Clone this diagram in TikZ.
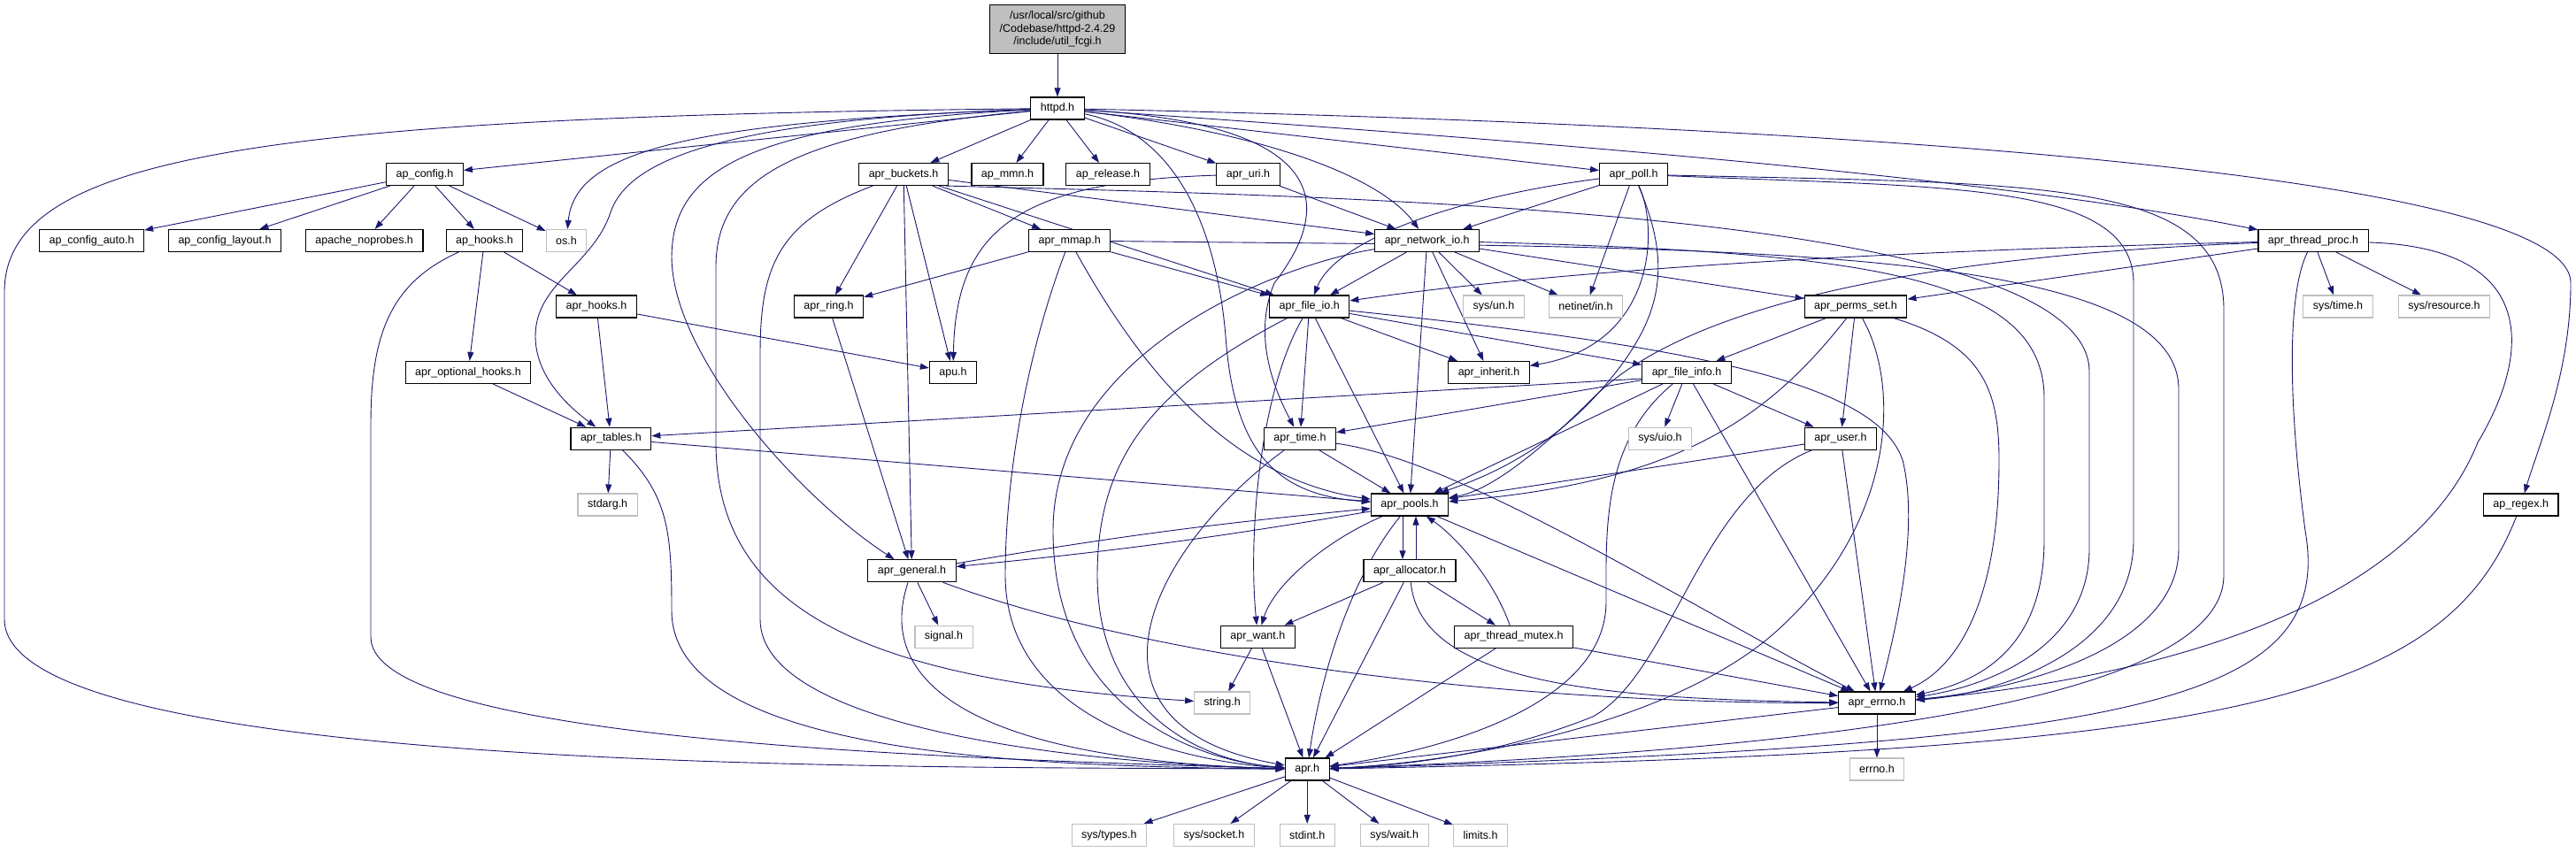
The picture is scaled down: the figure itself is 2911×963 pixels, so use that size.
\documentclass[tikz,border=0pt]{standalone}
\usepackage{fontspec}
\setmainfont{Liberation Sans}
\usepackage{tikz}
\usetikzlibrary{arrows.meta}

\definecolor{edgeblue}{RGB}{25,25,112}
\definecolor{sysgray}{RGB}{191,191,191}
\pgfdeclarelayer{edges}
\pgfsetlayers{edges,main}

\begin{document}
\begin{tikzpicture}[x=1pt, y=-1pt, >={Triangle[length=10pt,width=7pt]},
    hdr/.style={draw=black, line width=1.1pt, fill=white, inner xsep=11pt, inner ysep=0pt, minimum height=25pt, font=\fontsize{12.5}{14.5}\selectfont},
    sys/.style={hdr, draw=sysgray},
    root/.style={hdr, fill=sysgray, align=center, minimum height=55pt},
    dep/.style={->, draw=edgeblue, line width=0.9pt}]
      \useasboundingbox (0,0) rectangle (2911,963);

      % files
      \node[root] (top) at (1195,33) {/usr/local/src/github\\/Codebase/httpd-2.4.29\\/include/util\_fcgi.h};
      \node[hdr] (httpd) at (1195,122.5) {httpd.h};

      \node[hdr] (apconfig) at (480,197) {ap\_config.h};
      \node[hdr] (buckets) at (1021,197) {apr\_buckets.h};
      \node[hdr] (apmmn) at (1138.5,197) {ap\_mmn.h};
      \node[hdr] (aprelease) at (1252,197) {ap\_release.h};
      \node[hdr] (uri) at (1410.5,197) {apr\_uri.h};
      \node[hdr] (poll) at (1846,197) {apr\_poll.h};

      \node[hdr] (configauto) at (103.6,272) {ap\_config\_auto.h};
      \node[hdr] (configlayout) at (254,272) {ap\_config\_layout.h};
      \node[hdr] (noprobes) at (411.7,272) {apache\_noprobes.h};
      \node[hdr] (aphooks) at (547.5,272) {ap\_hooks.h};
      \node[sys] (os) at (640,272) {os.h};
      \node[hdr] (mmap) at (1208.7,272) {apr\_mmap.h};
      \node[hdr] (netio) at (1612.7,272) {apr\_network\_io.h};
      \node[hdr] (threadproc) at (2614,272) {apr\_thread\_proc.h};

      \node[hdr] (aprhooks) at (674,346.5) {apr\_hooks.h};
      \node[hdr] (ring) at (936.5,346.5) {apr\_ring.h};
      \node[hdr] (fileio) at (1479.7,346.5) {apr\_file\_io.h};
      \node[sys] (sysun) at (1688,346.5) {sys/un.h};
      \node[sys] (netinet) at (1792,346.5) {netinet/in.h};
      \node[hdr] (permsset) at (2097,346.5) {apr\_perms\_set.h};
      \node[sys] (systime) at (2642,346.5) {sys/time.h};
      \node[sys] (sysresource) at (2762,346.5) {sys/resource.h};

      \node[hdr] (opthooks) at (529,421) {apr\_optional\_hooks.h};
      \node[hdr] (apu) at (1077,421) {apu.h};
      \node[hdr] (inherit) at (1682.5,421) {apr\_inherit.h};
      \node[hdr] (fileinfo) at (1906,421) {apr\_file\_info.h};

      \node[hdr] (tables) at (690.4,495.7) {apr\_tables.h};
      \node[hdr] (time) at (1469,495.7) {apr\_time.h};
      \node[sys] (sysuio) at (1876,495.7) {sys/uio.h};
      \node[hdr] (user) at (2080,495.7) {apr\_user.h};

      \node[sys] (stdarg) at (686.6,570.5) {stdarg.h};
      \node[hdr] (pools) at (1593,570.5) {apr\_pools.h};
      \node[hdr] (regex) at (2848.7,570.5) {ap\_regex.h};

      \node[hdr] (general) at (1030.5,645.3) {apr\_general.h};
      \node[hdr] (allocator) at (1593,645.3) {apr\_allocator.h};

      \node[sys] (signal) at (1066.5,719.7) {signal.h};
      \node[hdr] (want) at (1421.4,719.7) {apr\_want.h};
      \node[hdr] (mutex) at (1710.6,719.7) {apr\_thread\_mutex.h};

      \node[sys] (string) at (1381.2,794.5) {string.h};
      \node[hdr] (errno) at (2121,794.5) {apr\_errno.h};

      \node[hdr] (apr) at (1477.2,869.5) {apr.h};
      \node[sys] (errnoh) at (2121,869.5) {errno.h};

      \node[sys] (systypes) at (1253.3,944) {sys/types.h};
      \node[sys] (syssocket) at (1372,944) {sys/socket.h};
      \node[sys] (stdint) at (1477.2,944) {stdint.h};
      \node[sys] (syswait) at (1575.7,944) {sys/wait.h};
      \node[sys] (limits) at (1673,944) {limits.h};

      % includes, under the boxes
      \begin{pgfonlayer}{edges}
      \draw[dep] (top) -- (httpd);

      \draw[dep] (httpd) -- (apconfig);
      \draw[dep] (httpd) .. controls (780,138) and (650,170) .. (os);
      \draw[dep] (httpd) .. controls (300,132) and (5,175) .. (5,330) -- (5,700) .. controls (5,880) and (1100,866) .. (apr);
      \draw[dep] (httpd) .. controls (820,135) and (710,180) .. (690,240) .. controls (670,300) and (605,320) .. (605,380) .. controls (605,430) and (650,465) .. (tables);
      \draw[dep] (httpd) .. controls (850,140) and (760,190) .. (759,290) .. controls (759,400) and (900,560) .. (general);
      \draw[dep] (httpd) .. controls (900,150) and (810,200) .. (809,300) -- (809,500) .. controls (809,700) and (1000,770) .. (string);
      \draw[dep] (httpd) .. controls (1330,150) and (1375,260) .. (1385,380) .. controls (1395,520) and (1450,560) .. (pools);
      \draw[dep] (httpd) .. controls (1500,140) and (1510,230) .. (1440,320) .. controls (1415,380) and (1440,440) .. (time);
      \draw[dep] (httpd) .. controls (1430,150) and (1560,200) .. (netio);
      \draw[dep] (httpd) -- (buckets);
      \draw[dep] (httpd) -- (apmmn);
      \draw[dep] (httpd) -- (aprelease);
      \draw[dep] (httpd) -- (uri);
      \draw[dep] (httpd) -- (poll);
      \draw[dep] (httpd) .. controls (1900,170) and (2300,210) .. (threadproc);
      \draw[dep] (httpd) .. controls (2000,140) and (2905,190) .. (2905,320) .. controls (2905,420) and (2870,500) .. (regex);

      \draw[dep] (apconfig) -- (configauto);
      \draw[dep] (apconfig) -- (configlayout);
      \draw[dep] (apconfig) -- (noprobes);
      \draw[dep] (apconfig) -- (aphooks);
      \draw[dep] (apconfig) -- (os);

      \draw[dep] (aphooks) -- (aprhooks);
      \draw[dep] (aphooks) -- (opthooks);
      \draw[dep] (aphooks) .. controls (440,320) and (419,380) .. (419,480) -- (419,720) .. controls (419,840) and (1100,858) .. (apr);

      \draw[dep] (aprhooks) -- (tables);
      \draw[dep] (aprhooks) -- (apu);
      \draw[dep] (opthooks) -- (tables);

      \draw[dep] (tables) -- (stdarg);
      \draw[dep] (tables) -- (pools);
      \draw[dep] (tables) .. controls (755,560) and (759,600) .. (759,690) .. controls (759,860) and (1200,866) .. (apr);

      \draw[dep] (buckets) -- (ring);
      \draw[dep] (buckets) -- (apu);
      \draw[dep] (buckets) -- (general);
      \draw[dep] (buckets) -- (mmap);
      \draw[dep] (buckets) -- (fileio);
      \draw[dep] (buckets) -- (netio);
      \draw[dep] (buckets) .. controls (880,250) and (859,300) .. (859,400) -- (859,700) .. controls (859,820) and (1200,862) .. (apr);
      \draw[dep] ([xshift=-3pt]buckets.south east) .. controls (1500,222) and (2361,235) .. (2361,420) -- (2361,620) .. controls (2361,730) and (2250,775) .. (errno);

      \draw[dep] (uri) .. controls (1150,205) and (1080,260) .. (apu);
      \draw[dep] (uri) -- (netio);

      \draw[dep] (mmap) -- (ring);
      \draw[dep] (mmap) -- (fileio);
      \draw[dep] (mmap) .. controls (1280,400) and (1380,540) .. (pools);
      \draw[dep] (mmap) .. controls (1160,400) and (1136,540) .. (1136,650) .. controls (1136,820) and (1350,862) .. (apr);
      \draw[dep] (mmap) .. controls (1900,280) and (2462,270) .. (2462,440) -- (2462,620) .. controls (2462,740) and (2260,782) .. (errno);

      \draw[dep] (netio) -- (fileio);
      \draw[dep] (netio) -- (pools);
      \draw[dep] (netio) -- (inherit);
      \draw[dep] (netio) -- (sysun);
      \draw[dep] (netio) -- (netinet);
      \draw[dep] (netio) -- (permsset);
      \draw[dep] (netio) .. controls (1440,300) and (1190,400) .. (1190,600) .. controls (1190,800) and (1350,860) .. (apr);
      \draw[dep] (netio) .. controls (2100,285) and (2310,310) .. (2310,450) -- (2310,610) .. controls (2310,730) and (2240,770) .. (errno);

      \draw[dep] (poll) -- (netio);
      \draw[dep] (poll) .. controls (1650,222) and (1510,270) .. (fileio);
      \draw[dep] (poll) -- (netinet);
      \draw[dep] (poll) .. controls (1875,260) and (1870,390) .. (inherit);
      \draw[dep] (poll) .. controls (1890,300) and (1880,360) .. (1810,440) .. controls (1740,520) and (1660,545) .. (pools);
      \draw[dep] (poll) .. controls (2200,212) and (2411,205) .. (2411,320) -- (2411,610) .. controls (2411,740) and (2250,785) .. (errno);
      \draw[dep] (poll) .. controls (2300,208) and (2513,200) .. (2513,350) -- (2513,650) .. controls (2513,800) and (2000,850) .. (apr);

      \draw[dep] (threadproc) .. controls (2200,282) and (1800,300) .. (fileio);
      \draw[dep] (threadproc) .. controls (2150,290) and (1900,350) .. (1800,450) .. controls (1730,520) and (1680,555) .. (pools);
      \draw[dep] (threadproc) -- (permsset);
      \draw[dep] (threadproc) -- (systime);
      \draw[dep] (threadproc) -- (sysresource);
      \draw[dep] (threadproc) .. controls (2585,330) and (2585,450) .. (2605,600) .. controls (2640,800) and (2400,840) .. (apr);
      \draw[dep] (threadproc) .. controls (2870,280) and (2860,400) .. (2800,500) .. controls (2720,700) and (2400,770) .. (errno);

      \draw[dep] (permsset) -- (fileinfo);
      \draw[dep] (permsset) -- (user);
      \draw[dep] (permsset) .. controls (2000,470) and (1900,545) .. (pools);
      \draw[dep] (permsset) .. controls (2150,440) and (2140,600) .. (2000,720) .. controls (1880,820) and (1650,862) .. (apr);
      \draw[dep] (permsset) .. controls (2240,390) and (2259,440) .. (2259,520) .. controls (2259,700) and (2200,760) .. (errno);

      \draw[dep] (fileio) -- (time);
      \draw[dep] (fileio) -- (pools);
      \draw[dep] (fileio) -- (inherit);
      \draw[dep] (fileio) -- (fileinfo);
      \draw[dep] (fileio) .. controls (1425,440) and (1410,600) .. (want);
      \draw[dep] (fileio) .. controls (1900,390) and (2120,430) .. (2150,520) .. controls (2170,600) and (2140,720) .. (errno);
      \draw[dep] (fileio) .. controls (1300,440) and (1240,520) .. (1240,650) .. controls (1240,800) and (1350,860) .. (apr);

      \draw[dep] ([yshift=-7pt]fileinfo.west) -- ([yshift=3pt]tables.east);
      \draw[dep] (fileinfo) -- (pools);
      \draw[dep] (fileinfo) -- (time);
      \draw[dep] (fileinfo) -- (sysuio);
      \draw[dep] (fileinfo) -- (user);
      \draw[dep] (fileinfo) -- (errno);
      \draw[dep] (fileinfo) .. controls (1810,500) and (1815,600) .. (1815,680) .. controls (1815,790) and (1650,845) .. (apr);

      \draw[dep] (time) -- (pools);
      \draw[dep] (time) .. controls (1650,520) and (1900,680) .. (errno);
      \draw[dep] (time) .. controls (1300,620) and (1200,820) .. (apr);

      \draw[dep] (user) -- (pools);
      \draw[dep] (user) -- (errno);
      \draw[dep] (user) .. controls (1920,560) and (1890,760) .. (1800,810) .. controls (1700,850) and (1600,865) .. (apr);

      \draw[dep] (pools) to[bend left=2] (general);
      \draw[dep] (general) to[bend left=2] (pools);
      \draw[dep] ([xshift=-8pt]pools.south) -- ([xshift=-8pt]allocator.north);
      \draw[dep] ([xshift=7pt]allocator.north) -- ([xshift=7pt]pools.south);
      \draw[dep] (pools) .. controls (1500,610) and (1440,660) .. (want);
      \draw[dep] (pools) .. controls (1520,660) and (1490,780) .. (apr);
      \draw[dep] (pools) -- (errno);

      \draw[dep] (allocator) -- (want);
      \draw[dep] (allocator) -- (mutex);
      \draw[dep] (allocator) -- (apr);
      \draw[dep] (allocator) .. controls (1605,770) and (1800,790) .. (errno);

      \draw[dep] (mutex) .. controls (1690,660) and (1650,610) .. (pools);
      \draw[dep] (mutex) -- (apr);
      \draw[dep] (mutex) -- (errno);

      \draw[dep] (general) -- (signal);
      \draw[dep] (general) .. controls (1300,745) and (1700,795) .. (errno);
      \draw[dep] (general) .. controls (985,780) and (1120,860) .. (apr);

      \draw[dep] (ring) -- (general);
      \draw[dep] (want) -- (string);
      \draw[dep] (want) -- (apr);
      \draw[dep] (regex) .. controls (2760,800) and (2500,850) .. (apr);

      \draw[dep] (errno) -- (errnoh);
      \draw[dep] (errno) -- (apr);

      \draw[dep] (apr) -- (systypes);
      \draw[dep] (apr) -- (syssocket);
      \draw[dep] (apr) -- (stdint);
      \draw[dep] (apr) -- (syswait);
      \draw[dep] (apr) -- (limits);
      \end{pgfonlayer}
\end{tikzpicture}
\end{document}
